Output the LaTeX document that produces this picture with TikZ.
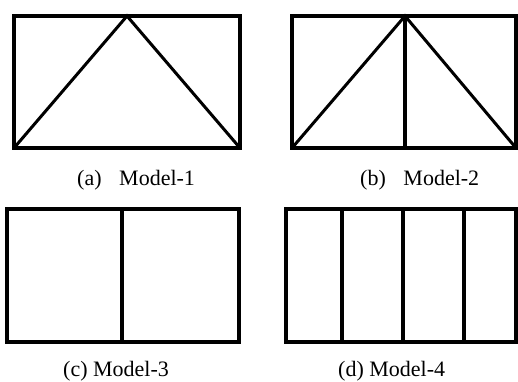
\documentclass[tikz,border=0pt]{standalone}
\usepackage{fontspec}
\setmainfont{Liberation Serif}
\begin{document}
\begin{tikzpicture}[
		x=1pt, y=-1pt,
		frame/.style={line width=4pt},
		part/.style={line width=3pt},
		caption/.style={anchor=base west, inner sep=0pt, font=\fontsize{22}{24}\selectfont}
	]
	\useasboundingbox (0,0) rectangle (518,381);

	% Model-1
	\draw[frame] (14,16) rectangle (240,148);
	\draw[part] (14,148) -- (127,16) -- (240,148);
	\node[caption] (capa) at (77,185) {(a)\hspace{0.8em}Model-1};

	% Model-2
	\draw[frame] (292,16) rectangle (516,148);
	\draw[part] (292,148) -- (405,16) -- (516,148);
	\draw[frame] (405,16) -- (405,148);
	\node[caption] (capb) at (360,185) {(b)\hspace{0.8em}Model-2};

	% Model-3
	\draw[frame] (7,209) rectangle (239,342);
	\draw[frame] (122,209) -- (122,342);
	\node[caption] (capc) at (63,376) {(c) Model-3};

	% Model-4
	\draw[frame] (286,209) rectangle (516,342);
	\foreach \x in {342,403,464}
		\draw[frame] (\x,209) -- (\x,342);
	\node[caption] (capd) at (338,376) {(d) Model-4};
\end{tikzpicture}
\end{document}
